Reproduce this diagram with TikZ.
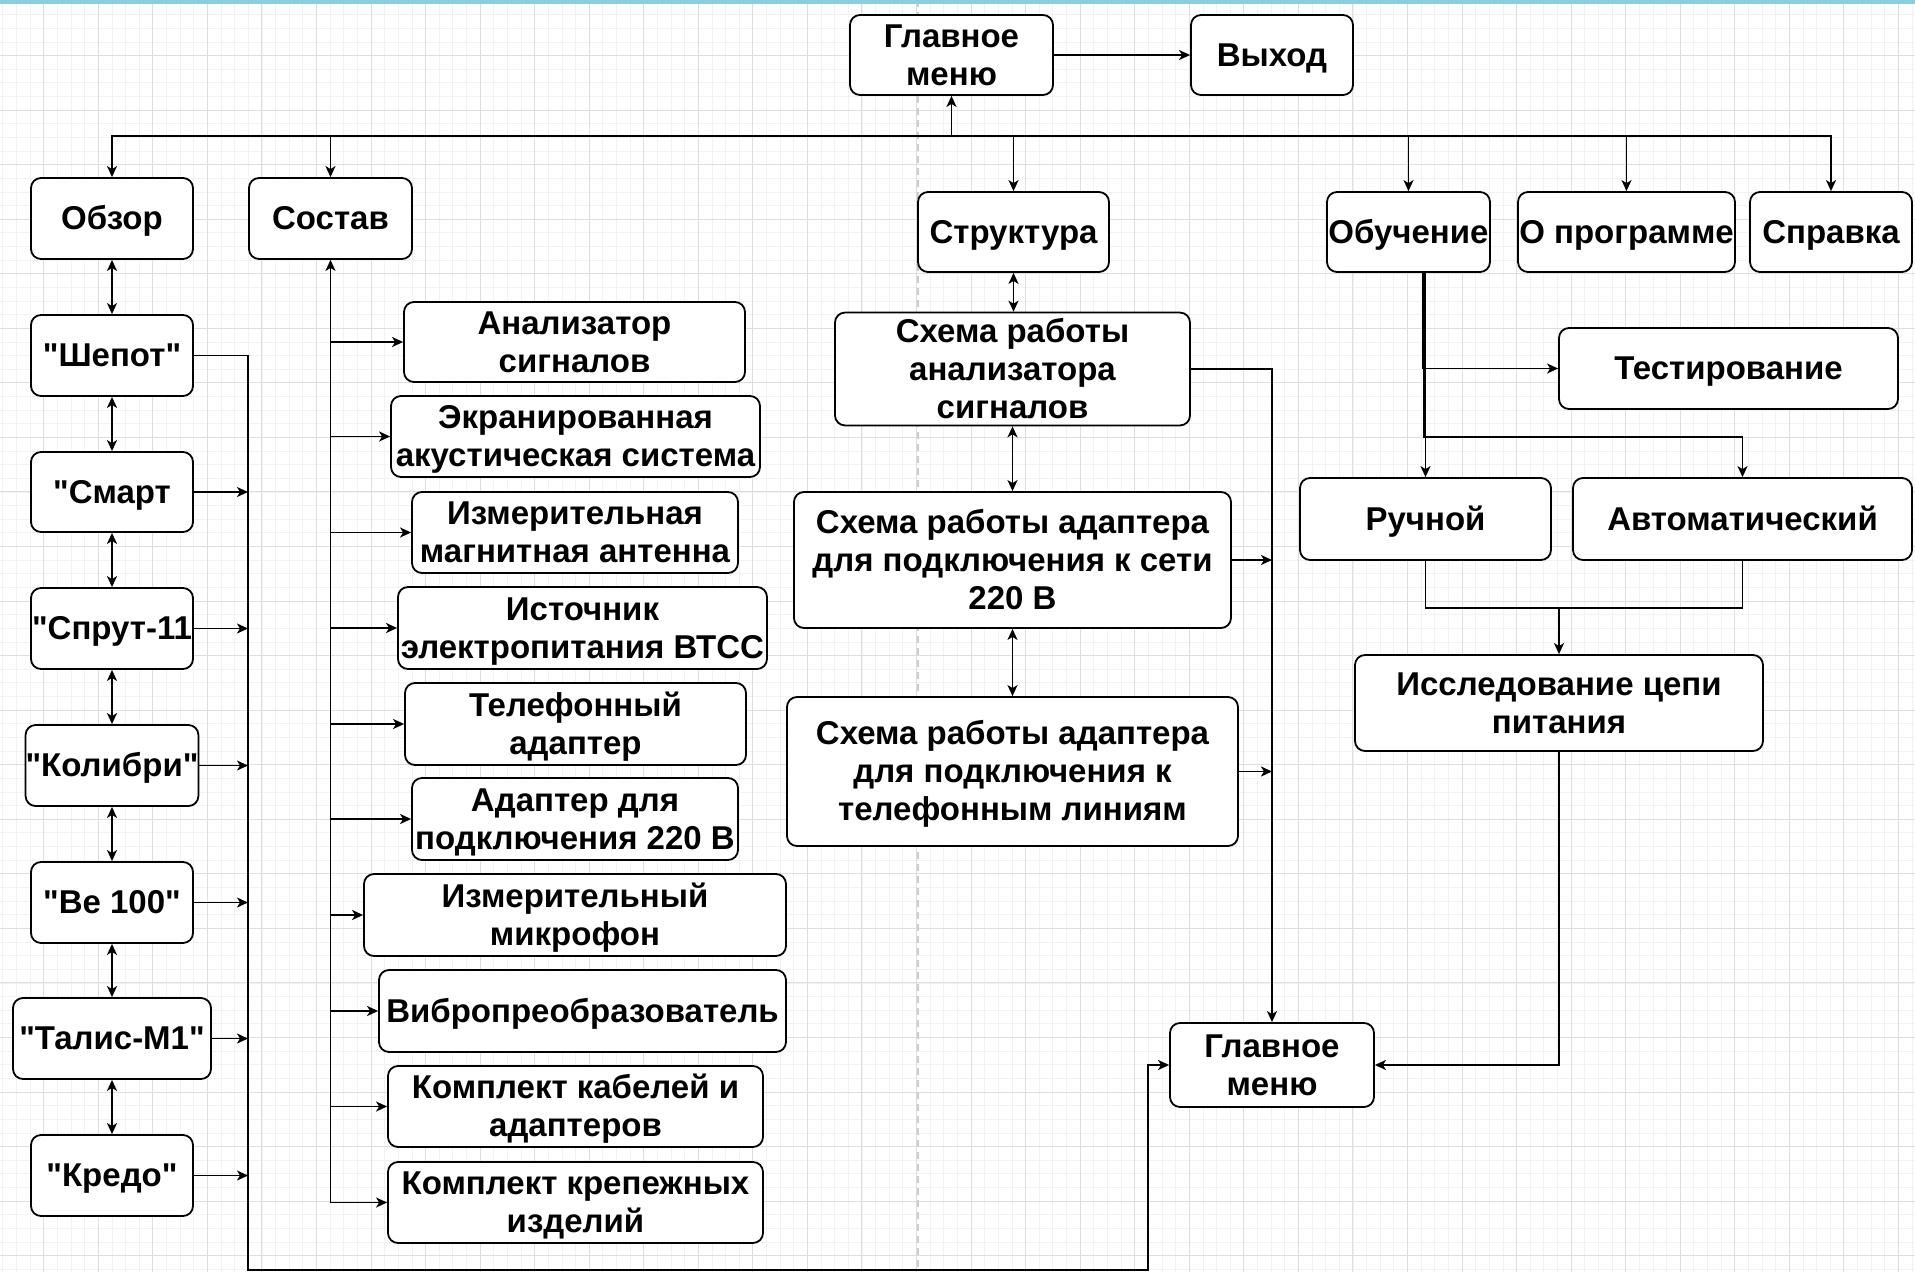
\documentclass[tikz,border=0pt]{standalone}
\usepackage{fontspec}
\setmainfont{Liberation Sans}[Ligatures=TeXOff]
\usetikzlibrary{arrows.meta,calc}
\definecolor{gridminor}{RGB}{242,242,242}
\definecolor{gridmajor}{RGB}{222,222,222}
\definecolor{topband}{RGB}{140,206,224}
\definecolor{pagebreak}{RGB}{205,205,205}
\newcommand\linestrut{\rule[-0.212em]{0pt}{1.117em}}
\newcommand\mybox[6]{\node[box, minimum width={#3pt-#2pt}, minimum height={#5pt-#4pt}] (#1) at ({(#2+#3)/2},{(#4+#5)/2}) {\linestrut#6\linestrut};}
\begin{document}
\begin{tikzpicture}[x=1pt,y=-1pt,
  box/.style={draw=black, line width=1.8pt, rounded corners=10pt, fill=white, align=center, inner sep=0pt,
    font=\fontsize{33}{38}\selectfont\bfseries},
  conn/.style={line width=1.8pt, draw=black},
  arr/.style={conn, -{Stealth[length=11pt,width=10pt,inset=3pt]}},
  darr/.style={conn, {Stealth[length=11pt,width=10pt,inset=3pt]}-{Stealth[length=11pt,width=10pt,inset=3pt]}},
  minorline/.style={draw=gridminor, line width=0.8pt},
  majorline/.style={draw=gridmajor, line width=1pt},
]
\useasboundingbox (0,0) rectangle (1915,1272);
\fill[white] (0,0) rectangle (1915,1272);
% grid
\foreach \i in {0,...,140} {\draw[minorline] ({\i*13.6375+2.8},0) -- ({\i*13.6375+2.8},1272);}
\foreach \i in {0,...,94} {\draw[minorline] (0,{\i*13.6375+1}) -- (1915,{\i*13.6375+1});}
\foreach \i in {0,...,35} {\draw[majorline] ({\i*54.55+43.7-54.55},0) -- ({\i*54.55+43.7-54.55},1272);}
\foreach \i in {0,...,24} {\draw[majorline] (0,{\i*54.55+1}) -- (1915,{\i*54.55+1});}
\draw[pagebreak, line width=1.5pt, dash pattern=on 7pt off 5pt] (918,0) -- (918,1272);
\fill[topband] (0,0) rectangle (1915,4);

% top
\mybox{gm}{850}{1053}{15}{95}{Главное\\меню}
\mybox{vyh}{1191}{1353}{15}{95}{Выход}
\mybox{obzor}{31}{193}{178}{259}{Обзор}
\mybox{sostav}{249}{412}{178}{259}{Состав}
\mybox{strukt}{918}{1109}{192}{272}{Структура}
\mybox{obuch}{1327}{1490}{192}{272}{Обучение}
\mybox{oprog}{1518}{1735}{192}{272}{О программе}
\mybox{sprav}{1750}{1912}{192}{272}{Справка}

% left column
\mybox{shepot}{31}{193}{315}{396}{"Шепот"}
\mybox{smart}{31}{193}{452}{532}{"Смарт}
\mybox{sprut}{31}{193}{588}{669}{"Спрут-11}
\mybox{kolibri}{31}{193}{725}{806}{"Колибри"}
\mybox{be}{31}{193}{862}{943}{"Ве 100"}
\mybox{talis}{13}{211}{998}{1079}{"Талис-М1"}
\mybox{kredo}{31}{193}{1135}{1216}{"Кредо"}

% sostav items
\mybox{an}{404}{745}{302}{382}{Анализатор\\сигналов}
\mybox{ekr}{391}{760}{396}{477}{Экранированная\\акустическая система}
\mybox{izma}{412}{738}{492}{573}{Измерительная\\магнитная антенна}
\mybox{ist}{398}{767}{587}{669}{Источник\\электропитания ВТСС}
\mybox{tel}{405}{746}{683}{765}{Телефонный\\адаптер}
\mybox{adp}{412}{738}{778}{860}{Адаптер для\\подключения 220 В}
\mybox{mic}{364}{786}{874}{956}{Измерительный\\микрофон}
\mybox{vib}{379}{786}{970}{1052}{Вибропреобразователь}
\mybox{kab}{388}{763}{1066}{1147}{Комплект кабелей и\\адаптеров}
\mybox{krep}{388}{763}{1162}{1243}{Комплект крепежных\\изделий}

% structure
\mybox{sa}{835}{1190}{314}{424}{Схема работы\\анализатора\\сигналов}
\mybox{sb}{794}{1231}{492}{628}{Схема работы адаптера\\для подключения к сети\\220 В}
\mybox{sc}{787}{1238}{697}{846}{Схема работы адаптера\\для подключения к\\телефонным линиям}

% training
\mybox{test}{1559}{1898}{328}{409}{Тестирование}
\mybox{ruch}{1300}{1551}{478}{560}{Ручной}
\mybox{avto}{1573}{1912}{478}{560}{Автоматический}
\mybox{issl}{1355}{1763}{655}{751}{Исследование цепи\\питания}
\mybox{gmb}{1170}{1374}{1023}{1107}{Главное\\меню}

% coordinates
\coordinate (bus) at (951.5,136);
\coordinate (lb) at (248,1270);
\coordinate (rb) at (1148,1270);
\coordinate (aj) at (1742.5,437);
\coordinate (mj) at (1559,608);

% top connectors
\draw[arr] (gm.east) -- (vyh.west);
\draw[conn, line width=2.6pt] (obzor.north |- bus) -- (sprav.north |- bus);
\draw[arr] (bus) -- (gm.south);
\foreach \n in {obzor,sostav,strukt,obuch,oprog,sprav} {\draw[arr] (bus) -| (\n.north);}

% left column
\draw[darr] (obzor) -- (shepot);
\draw[darr] (shepot) -- (smart);
\draw[darr] (smart) -- (sprut);
\draw[darr] (sprut) -- (kolibri);
\draw[darr] (kolibri) -- (be);
\draw[darr] (be) -- (talis);
\draw[darr] (talis) -- (kredo);
\draw[arr] (shepot.east) -- (shepot.east -| lb) -- (lb) -- (rb) |- (gmb.west);
\foreach \n in {smart,sprut,kolibri,be,talis,kredo} {\draw[arr] (\n.east) -- (\n.east -| lb);}

% sostav
\draw[arr] (krep.west -| sostav.south) -- (sostav.south);
\foreach \n in {an,ekr,izma,ist,tel,adp,mic,vib,kab,krep} {\draw[arr] (\n.west -| sostav.south) -- (\n.west);}

% structure
\draw[darr] (strukt.south) -- (strukt.south |- sa.north);
\draw[darr] (sa.south) -- (sa.south |- sb.north);
\draw[darr] (sb.south) -- (sb.south |- sc.north);
\draw[arr] (sa.east) -- (sa.east -| gmb.north) -- (gmb.north);
\draw[arr] (sb.east) -- (sb.east -| gmb.north);
\draw[arr] (sc.east) -- (sc.east -| gmb.north);

% training
\draw[arr] ([xshift=-3pt]obuch.south -| ruch.north) |- (test.west);
\draw[arr] ([xshift=-1.5pt]obuch.south -| ruch.north) |- (aj) -- (avto.north);
\draw[arr] (obuch.south -| ruch.north) -- (ruch.north);
\draw[conn] (ruch.south) |- (mj);
\draw[conn] (avto.south) |- (mj);
\draw[arr] (mj) -- (issl.north);
\draw[arr] (issl.south) |- (gmb.east);
\end{tikzpicture}
\end{document}
